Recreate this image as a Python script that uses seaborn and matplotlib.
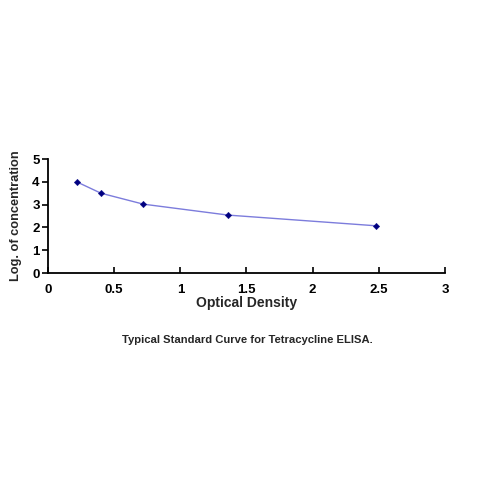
import matplotlib
matplotlib.use("Agg")
import matplotlib.pyplot as plt
import pandas as pd
import seaborn as sns

# standard curve points
optical_density = [0.22, 0.40, 0.72, 1.36, 2.48]
log_concentration = [3.99, 3.50, 3.02, 2.54, 2.07]

x_ticks = [0, 0.5, 1, 1.5, 2, 2.5, 3]
x_tick_labels = ["0", "0.5", "1", "1.5", "2", "2.5", "3"]
y_ticks = [0, 1, 2, 3, 4, 5]

df = pd.DataFrame({"od": optical_density, "logc": log_concentration})

sns.set_theme(style="white")
plt.rcParams["font.family"] = ["Liberation Sans", "DejaVu Sans"]

fig = plt.figure(figsize=(5, 5), dpi=100)
ax = fig.add_axes([0.096, 0.454, 0.794, 0.228])

sns.lineplot(data=df, x="od", y="logc", ax=ax, color="#7c7cdc", linewidth=1.0)
sns.scatterplot(data=df, x="od", y="logc", ax=ax, marker="D", s=11,
                color="#000080", edgecolor="#000080", zorder=3)

ax.set_xlim(0, 3)
ax.set_ylim(0, 5)
ax.set_xticks(x_ticks)
ax.set_xticklabels(x_tick_labels, fontweight="bold", fontsize=9.5)
ax.set_yticks(y_ticks)
ax.set_yticklabels([str(v) for v in y_ticks], fontweight="bold", fontsize=9.5)
ax.tick_params(axis="x", direction="in", length=4, width=1.2, pad=8, colors="black")
ax.tick_params(axis="y", direction="out", length=4, width=1.2, pad=2, colors="black")
ax.tick_params(left=True, bottom=True)

for side in ["top", "right"]:
    ax.spines[side].set_visible(False)
for side in ["left", "bottom"]:
    ax.spines[side].set_color("black")
    ax.spines[side].set_linewidth(1.3)

ax.set_xlabel("Optical Density", fontweight="bold", fontsize=10, labelpad=0)
ax.set_ylabel("Log. of concentration", fontweight="bold", fontsize=9.2, labelpad=7)

fig.text(0.495, 0.320, "Typical Standard Curve for Tetracycline ELISA.",
         ha="center", va="center", fontsize=8.1, fontweight="bold")

fig.savefig("out.png", dpi=100, facecolor="white")
